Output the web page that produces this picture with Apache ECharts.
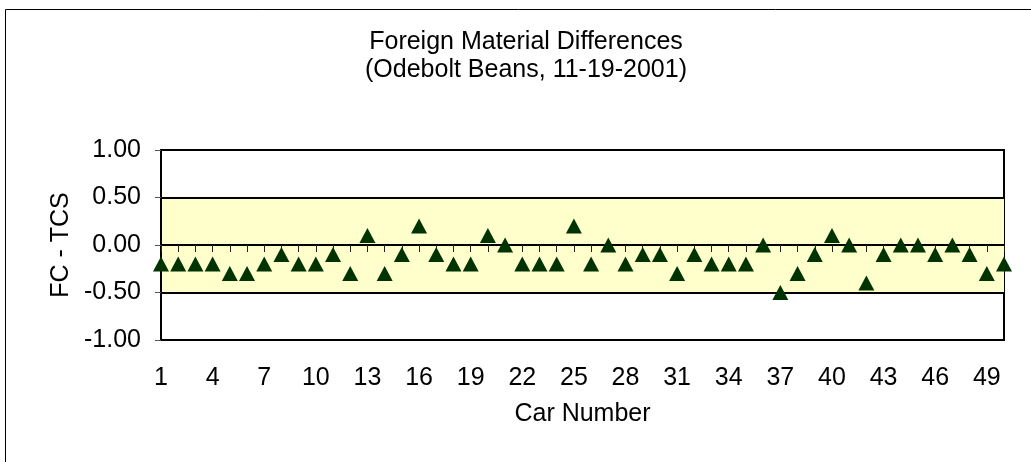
<!DOCTYPE html>
<html>
<head>
<meta charset="utf-8">
<title>Foreign Material Differences</title>
<script src="https://cdn.jsdelivr.net/npm/echarts@6/dist/echarts.min.js"></script>
<style>
  html, body { margin: 0; padding: 0; background: #fff; }
  #chart { width: 1031px; height: 462px; }
</style>
</head>
<body>
<div id="chart"></div>
<script>
// car numbers 1..50
const cars = ['1','2','3','4','5','6','7','8','9','10','11','12','13','14','15','16','17','18','19','20',
  '21','22','23','24','25','26','27','28','29','30','31','32','33','34','35','36','37','38','39','40',
  '41','42','43','44','45','46','47','48','49','50'];
// FC - TCS difference per car
const diffs = [-0.2, -0.2, -0.2, -0.2, -0.3, -0.3, -0.2, -0.1, -0.2, -0.2,
  -0.1, -0.3, 0.1, -0.3, -0.1, 0.2, -0.1, -0.2, -0.2, 0.1,
  0.0, -0.2, -0.2, -0.2, 0.2, -0.2, 0.0, -0.2, -0.1, -0.1,
  -0.3, -0.1, -0.2, -0.2, -0.2, 0.0, -0.5, -0.3, -0.1, 0.1,
  0.0, -0.4, -0.1, 0.0, 0.0, -0.1, 0.0, -0.1, -0.3, -0.2];
// tolerance band
const bandLow = -0.5;
const bandHigh = 0.5;

const font = 'Arial, "Liberation Sans", sans-serif';
const chart = echarts.init(document.getElementById('chart'));

chart.setOption({
  animation: false,
  backgroundColor: '#fff',
  graphic: [{
    type: 'rect',
    shape: { x: 5.5, y: 9.5, width: 1100, height: 600 },
    style: { fill: 'none', stroke: '#000', lineWidth: 1 },
    silent: true
  }],
  title: {
    text: 'Foreign Material Differences\n(Odebolt Beans, 11-19-2001)',
    left: 521,
    top: 23,
    textAlign: 'center',
    textStyle: {
      fontFamily: font,
      fontSize: 25,
      fontWeight: 'normal',
      color: '#000',
      lineHeight: 28
    }
  },
  grid: [{
    // main plot
    left: 161,
    right: 27,
    top: 150,
    bottom: 122,
    outerBoundsMode: 'none',
    show: true,
    borderColor: '#000',
    borderWidth: 2,
    backgroundColor: 'transparent'
  }, {
    // upper half only, its bottom edge is the zero line
    left: 161,
    right: 27,
    top: 150,
    bottom: 217,
    outerBoundsMode: 'none',
    show: false
  }],
  xAxis: [{
    type: 'category',
    gridIndex: 0,
    data: cars,
    boundaryGap: false,
    name: 'Car Number',
    nameLocation: 'middle',
    nameGap: 62,
    nameTextStyle: { fontFamily: font, fontSize: 25, color: '#000' },
    axisLine: { show: false, onZero: false },
    axisTick: { show: false },
    axisLabel: {
      interval: 2,
      margin: 26,
      fontFamily: font,
      fontSize: 25,
      color: '#000'
    },
    splitLine: { show: false },
    z: 3
  }, {
    // zero line with a small tick per car
    type: 'category',
    gridIndex: 1,
    data: cars,
    boundaryGap: false,
    axisLine: { show: true, onZero: false, lineStyle: { color: '#000', width: 2 } },
    axisTick: { show: true, interval: 0, length: 7, lineStyle: { color: '#222', width: 1 } },
    axisLabel: { show: false },
    splitLine: { show: false },
    z: 3
  }],
  yAxis: [{
    type: 'value',
    gridIndex: 0,
    min: -1,
    max: 1,
    interval: 0.5,
    name: 'FC - TCS',
    nameLocation: 'middle',
    nameGap: 64,
    nameTextStyle: { fontFamily: font, fontSize: 25, color: '#000' },
    axisLine: { show: true, lineStyle: { color: '#000', width: 2 } },
    axisTick: { show: true, length: 6, lineStyle: { color: '#555', width: 1 } },
    axisLabel: {
      margin: 20,
      fontFamily: font,
      fontSize: 25,
      color: '#000',
      formatter: (v) => v.toFixed(2)
    },
    splitLine: { show: true, lineStyle: { color: '#000', width: 2 } },
    z: 3
  }, {
    type: 'value',
    gridIndex: 1,
    min: 0,
    max: 1,
    show: false
  }],
  series: [{
    // band only, drawn under the axes
    type: 'line',
    data: [],
    z: 1,
    silent: true,
    markArea: {
      silent: true,
      itemStyle: { color: '#FFFFCC' },
      data: [[{ yAxis: bandLow }, { yAxis: bandHigh }]]
    }
  }, {
    type: 'scatter',
    data: diffs,
    symbol: 'triangle',
    symbolSize: [16, 15],
    itemStyle: { color: '#003300', opacity: 1 },
    z: 5
  }]
});
</script>
</body>
</html>
